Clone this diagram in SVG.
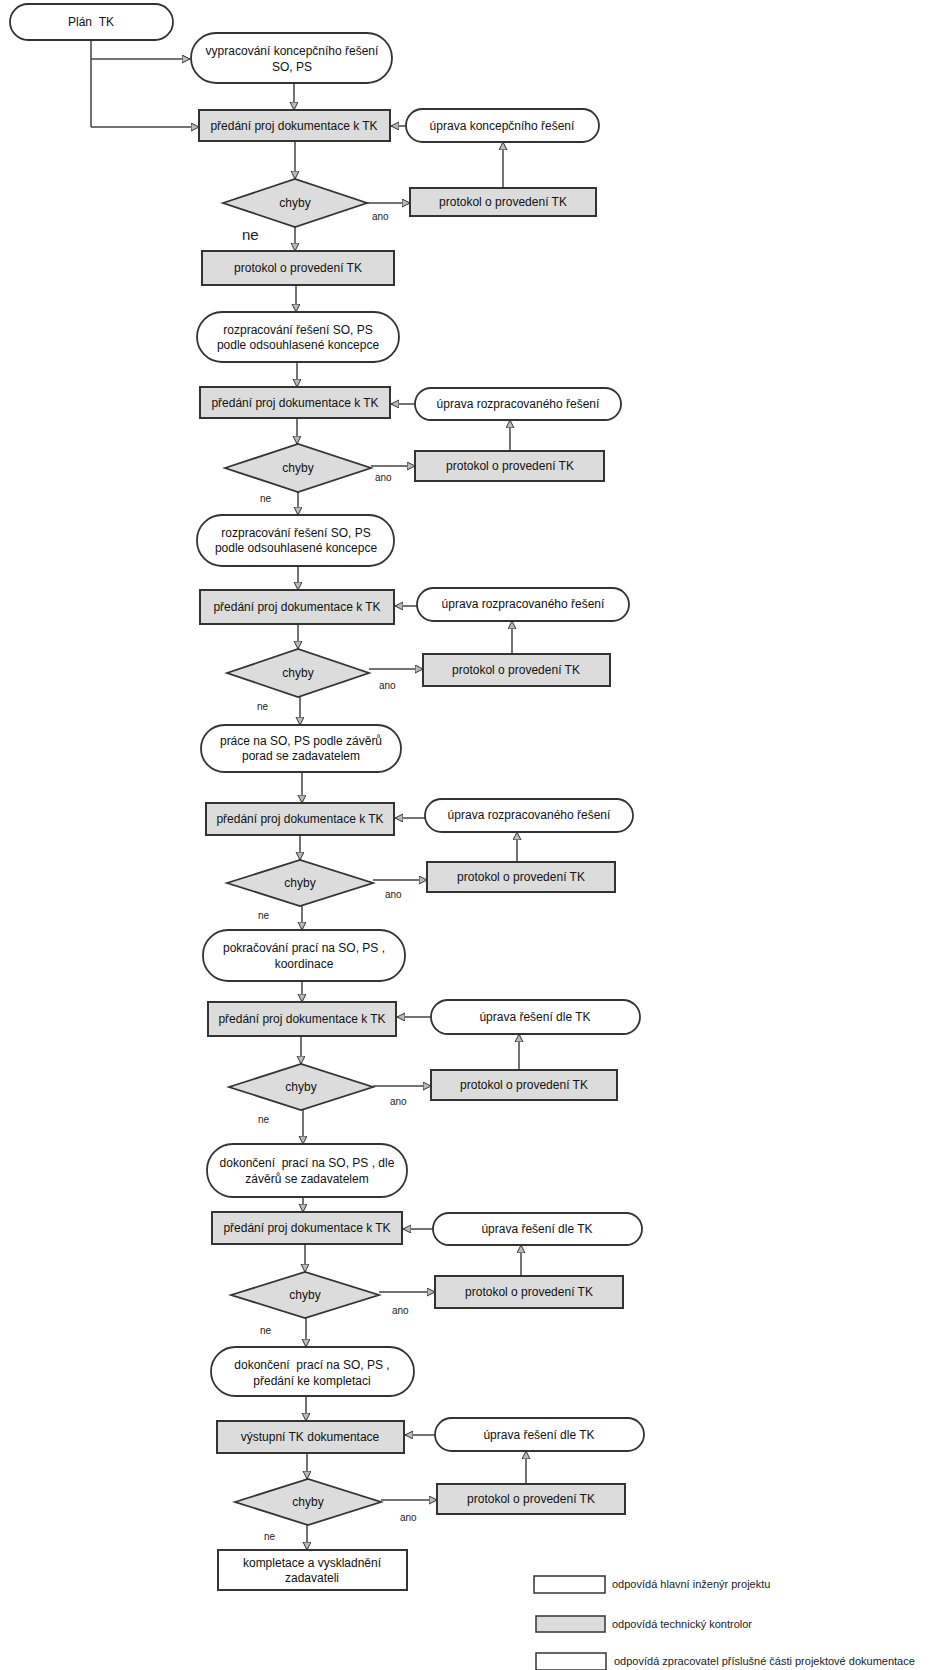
<svg xmlns="http://www.w3.org/2000/svg" width="946" height="1670" viewBox="0 0 946 1670">
<style>
.t{font-family:"Liberation Sans",Arial,sans-serif;font-size:12px;fill:#111;text-anchor:middle}
.s{font-family:"Liberation Sans",Arial,sans-serif;font-size:10px;fill:#222}
.lg{font-family:"Liberation Sans",Arial,sans-serif;font-size:11px;fill:#222}
.term{fill:#fff;stroke:#333;stroke-width:1.8}
.box{fill:#dcdcdc;stroke:#333;stroke-width:2}
.wbox{fill:#fff;stroke:#333;stroke-width:2}
.dia{fill:#dcdcdc;stroke:#333;stroke-width:1.8}
.c{fill:none;stroke:#444;stroke-width:1.5;marker-end:url(#ah)}
.cl{fill:none;stroke:#444;stroke-width:1.5}
</style>
<defs>
<marker id="ah" markerWidth="9" markerHeight="9" refX="8" refY="4" orient="auto" markerUnits="userSpaceOnUse">
<path d="M0,0 L8,4 L0,8 z" fill="#bbb" stroke="#333" stroke-width="1"/>
</marker>
</defs>
<rect width="946" height="1670" fill="#fff"/>

<g id="connectors">
<path class="cl" d="M91,40 V127"/>
<path class="c" d="M91,127 H199"/>
<path class="c" d="M91,59 H190"/>
<path class="c" d="M294,83 V110"/>
<path class="c" d="M406,126 H391"/>
<path class="c" d="M295,141 V179"/>
<path class="c" d="M367,203 H410"/>
<path class="c" d="M503,188 V142"/>
<path class="c" d="M295,227 V251"/>
<path class="c" d="M296,285 V312"/>
<path class="c" d="M297,362 V387"/>
<path class="c" d="M415,404 H391"/>
<path class="c" d="M297,418 V444"/>
<path class="c" d="M371,466 H415"/>
<path class="c" d="M510,451 V420"/>
<path class="c" d="M298,492 V515"/>
<path class="c" d="M298,566 V590"/>
<path class="c" d="M417,606 H395"/>
<path class="c" d="M298,624 V649"/>
<path class="c" d="M369,669 H423"/>
<path class="c" d="M512,654 V621"/>
<path class="c" d="M300,697 V725"/>
<path class="c" d="M302,772 V803"/>
<path class="c" d="M425,818 H395"/>
<path class="c" d="M300,835 V860"/>
<path class="c" d="M373,880 H427"/>
<path class="c" d="M517,862 V832"/>
<path class="c" d="M302,906 V930"/>
<path class="c" d="M302,981 V1002"/>
<path class="c" d="M431,1017 H397"/>
<path class="c" d="M301,1036 V1064"/>
<path class="c" d="M373,1086 H431"/>
<path class="c" d="M519,1070 V1034"/>
<path class="c" d="M303,1110 V1144"/>
<path class="c" d="M303,1197 V1212"/>
<path class="c" d="M433,1229 H403"/>
<path class="c" d="M305,1244 V1272"/>
<path class="c" d="M379,1292 H435"/>
<path class="c" d="M521,1276 V1245"/>
<path class="c" d="M306,1318 V1347"/>
<path class="c" d="M306,1396 V1421"/>
<path class="c" d="M435,1435 H405"/>
<path class="c" d="M307,1453 V1479"/>
<path class="c" d="M381,1500 H437"/>
<path class="c" d="M526,1484 V1451"/>
<path class="c" d="M307,1525 V1550"/>
</g>

<g id="labels">
<text class="s" x="372" y="220">ano</text>
<text class="s" x="242" y="240" style="font-size:15px">ne</text>
<text class="s" x="375" y="481">ano</text>
<text class="s" x="260" y="502">ne</text>
<text class="s" x="379" y="689">ano</text>
<text class="s" x="257" y="710">ne</text>
<text class="s" x="385" y="898">ano</text>
<text class="s" x="258" y="919">ne</text>
<text class="s" x="390" y="1105">ano</text>
<text class="s" x="258" y="1123">ne</text>
<text class="s" x="392" y="1314">ano</text>
<text class="s" x="260" y="1334">ne</text>
<text class="s" x="400" y="1521">ano</text>
<text class="s" x="264" y="1540">ne</text>
</g>

<g id="n-plan"><rect class="term" x="10" y="4" width="163" height="36" rx="18"/><text class="t" x="91" y="26">Plán&#160;&#160;TK</text></g>
<g id="n-vypracovani"><rect class="term" x="191" y="33" width="201" height="50" rx="25"/><text class="t" x="292" y="55">vypracování koncepčního řešení</text><text class="t" x="292" y="71">SO, PS</text></g>

<g id="n-predani1"><rect class="box" x="199" y="110" width="191" height="31"/><text class="t" x="294" y="130">předání proj dokumentace k TK</text></g>
<g id="n-uprava1"><rect class="term" x="406" y="109" width="193" height="33" rx="16.5"/><text class="t" x="502" y="130">úprava koncepčního řešení</text></g>
<g id="n-chyby1"><polygon class="dia" points="223,203 295,179 367,203 295,227"/><text class="t" x="295" y="207">chyby</text></g>
<g id="n-protokolR1"><rect class="box" x="410" y="188" width="186" height="28"/><text class="t" x="503" y="206">protokol o provedení TK</text></g>
<g id="n-protokolC1"><rect class="box" x="202" y="251" width="192" height="34"/><text class="t" x="298" y="272">protokol o provedení TK</text></g>
<g id="n-rozpracovani1"><rect class="term" x="197" y="312" width="202" height="50" rx="25"/><text class="t" x="298" y="334">rozpracování řešení SO, PS</text><text class="t" x="298" y="349">podle odsouhlasené koncepce</text></g>

<g id="n-predani2"><rect class="box" x="200" y="387" width="190" height="31"/><text class="t" x="295" y="407">předání proj dokumentace k TK</text></g>
<g id="n-uprava2"><rect class="term" x="415" y="388" width="206" height="32" rx="16"/><text class="t" x="518" y="408">úprava rozpracovaného řešení</text></g>
<g id="n-chyby2"><polygon class="dia" points="225,468 298,444 371,468 298,492"/><text class="t" x="298" y="472">chyby</text></g>
<g id="n-protokolR2"><rect class="box" x="415" y="451" width="189" height="30"/><text class="t" x="510" y="470">protokol o provedení TK</text></g>
<g id="n-rozpracovani2"><rect class="term" x="197" y="515" width="197" height="51" rx="25"/><text class="t" x="296" y="537">rozpracování řešení SO, PS</text><text class="t" x="296" y="552">podle odsouhlasené koncepce</text></g>

<g id="n-predani3"><rect class="box" x="200" y="590" width="194" height="34"/><text class="t" x="297" y="611">předání proj dokumentace k TK</text></g>
<g id="n-uprava3"><rect class="term" x="417" y="588" width="212" height="33" rx="16.5"/><text class="t" x="523" y="608">úprava rozpracovaného řešení</text></g>
<g id="n-chyby3"><polygon class="dia" points="227,673 298,649 369,673 298,697"/><text class="t" x="298" y="677">chyby</text></g>
<g id="n-protokolR3"><rect class="box" x="423" y="654" width="187" height="32"/><text class="t" x="516" y="674">protokol o provedení TK</text></g>
<g id="n-prace"><rect class="term" x="201" y="725" width="200" height="47" rx="23.5"/><text class="t" x="301" y="745">práce na SO, PS podle závěrů</text><text class="t" x="301" y="760">porad se zadavatelem</text></g>

<g id="n-predani4"><rect class="box" x="206" y="803" width="188" height="32"/><text class="t" x="300" y="823">předání proj dokumentace k TK</text></g>
<g id="n-uprava4"><rect class="term" x="425" y="799" width="208" height="33" rx="16.5"/><text class="t" x="529" y="819">úprava rozpracovaného řešení</text></g>
<g id="n-chyby4"><polygon class="dia" points="227,883 300,860 373,883 300,906"/><text class="t" x="300" y="887">chyby</text></g>
<g id="n-protokolR4"><rect class="box" x="427" y="862" width="188" height="30"/><text class="t" x="521" y="881">protokol o provedení TK</text></g>
<g id="n-pokracovani"><rect class="term" x="203" y="930" width="202" height="51" rx="25"/><text class="t" x="304" y="952">pokračování prací na SO, PS ,</text><text class="t" x="304" y="968">koordinace</text></g>

<g id="n-predani5"><rect class="box" x="208" y="1002" width="188" height="34"/><text class="t" x="302" y="1023">předání proj dokumentace k TK</text></g>
<g id="n-uprava5"><rect class="term" x="431" y="1000" width="209" height="34" rx="17"/><text class="t" x="535" y="1021">úprava řešení dle TK</text></g>
<g id="n-chyby5"><polygon class="dia" points="229,1087 301,1064 373,1087 301,1110"/><text class="t" x="301" y="1091">chyby</text></g>
<g id="n-protokolR5"><rect class="box" x="431" y="1070" width="186" height="30"/><text class="t" x="524" y="1089">protokol o provedení TK</text></g>
<g id="n-dokonceni1"><rect class="term" x="207" y="1144" width="200" height="53" rx="26"/><text class="t" x="307" y="1167">dokončení&#160; prací na SO, PS , dle</text><text class="t" x="307" y="1183">závěrů se zadavatelem</text></g>

<g id="n-predani6"><rect class="box" x="212" y="1212" width="190" height="32"/><text class="t" x="307" y="1232">předání proj dokumentace k TK</text></g>
<g id="n-uprava6"><rect class="term" x="433" y="1213" width="209" height="32" rx="16"/><text class="t" x="537" y="1233">úprava řešení dle TK</text></g>
<g id="n-chyby6"><polygon class="dia" points="231,1295 305,1272 379,1295 305,1318"/><text class="t" x="305" y="1299">chyby</text></g>
<g id="n-protokolR6"><rect class="box" x="435" y="1276" width="188" height="32"/><text class="t" x="529" y="1296">protokol o provedení TK</text></g>
<g id="n-dokonceni2"><rect class="term" x="211" y="1347" width="203" height="49" rx="24.5"/><text class="t" x="312" y="1369">dokončení&#160; prací na SO, PS ,</text><text class="t" x="312" y="1385">předání ke kompletaci</text></g>

<g id="n-vystupni"><rect class="box" x="217" y="1421" width="187" height="32"/><text class="t" x="310" y="1441">výstupní TK dokumentace</text></g>
<g id="n-uprava7"><rect class="term" x="435" y="1418" width="209" height="33" rx="16.5"/><text class="t" x="539" y="1439">úprava řešení dle TK</text></g>
<g id="n-chyby7"><polygon class="dia" points="235,1502 308,1479 381,1502 308,1525"/><text class="t" x="308" y="1506">chyby</text></g>
<g id="n-protokolR7"><rect class="box" x="437" y="1484" width="188" height="30"/><text class="t" x="531" y="1503">protokol o provedení TK</text></g>
<g id="n-kompletace"><rect class="wbox" x="218" y="1550" width="189" height="40"/><text class="t" x="312" y="1567">kompletace a vyskladnění</text><text class="t" x="312" y="1582">zadavateli</text></g>

<g id="legend">
<rect class="wbox" x="534" y="1576" width="71" height="17" style="stroke-width:1.5"/>
<text class="lg" x="612" y="1588">odpovídá hlavní inženýr projektu</text>
<rect class="box" x="536" y="1616" width="69" height="16" style="stroke-width:1.5"/>
<text class="lg" x="612" y="1628">odpovídá technický kontrolor</text>
<rect class="wbox" x="536" y="1653" width="70" height="17" style="stroke-width:1.5"/>
<text class="lg" x="614" y="1665">odpovídá zpracovatel příslušné části projektové dokumentace</text>
</g>
</svg>
